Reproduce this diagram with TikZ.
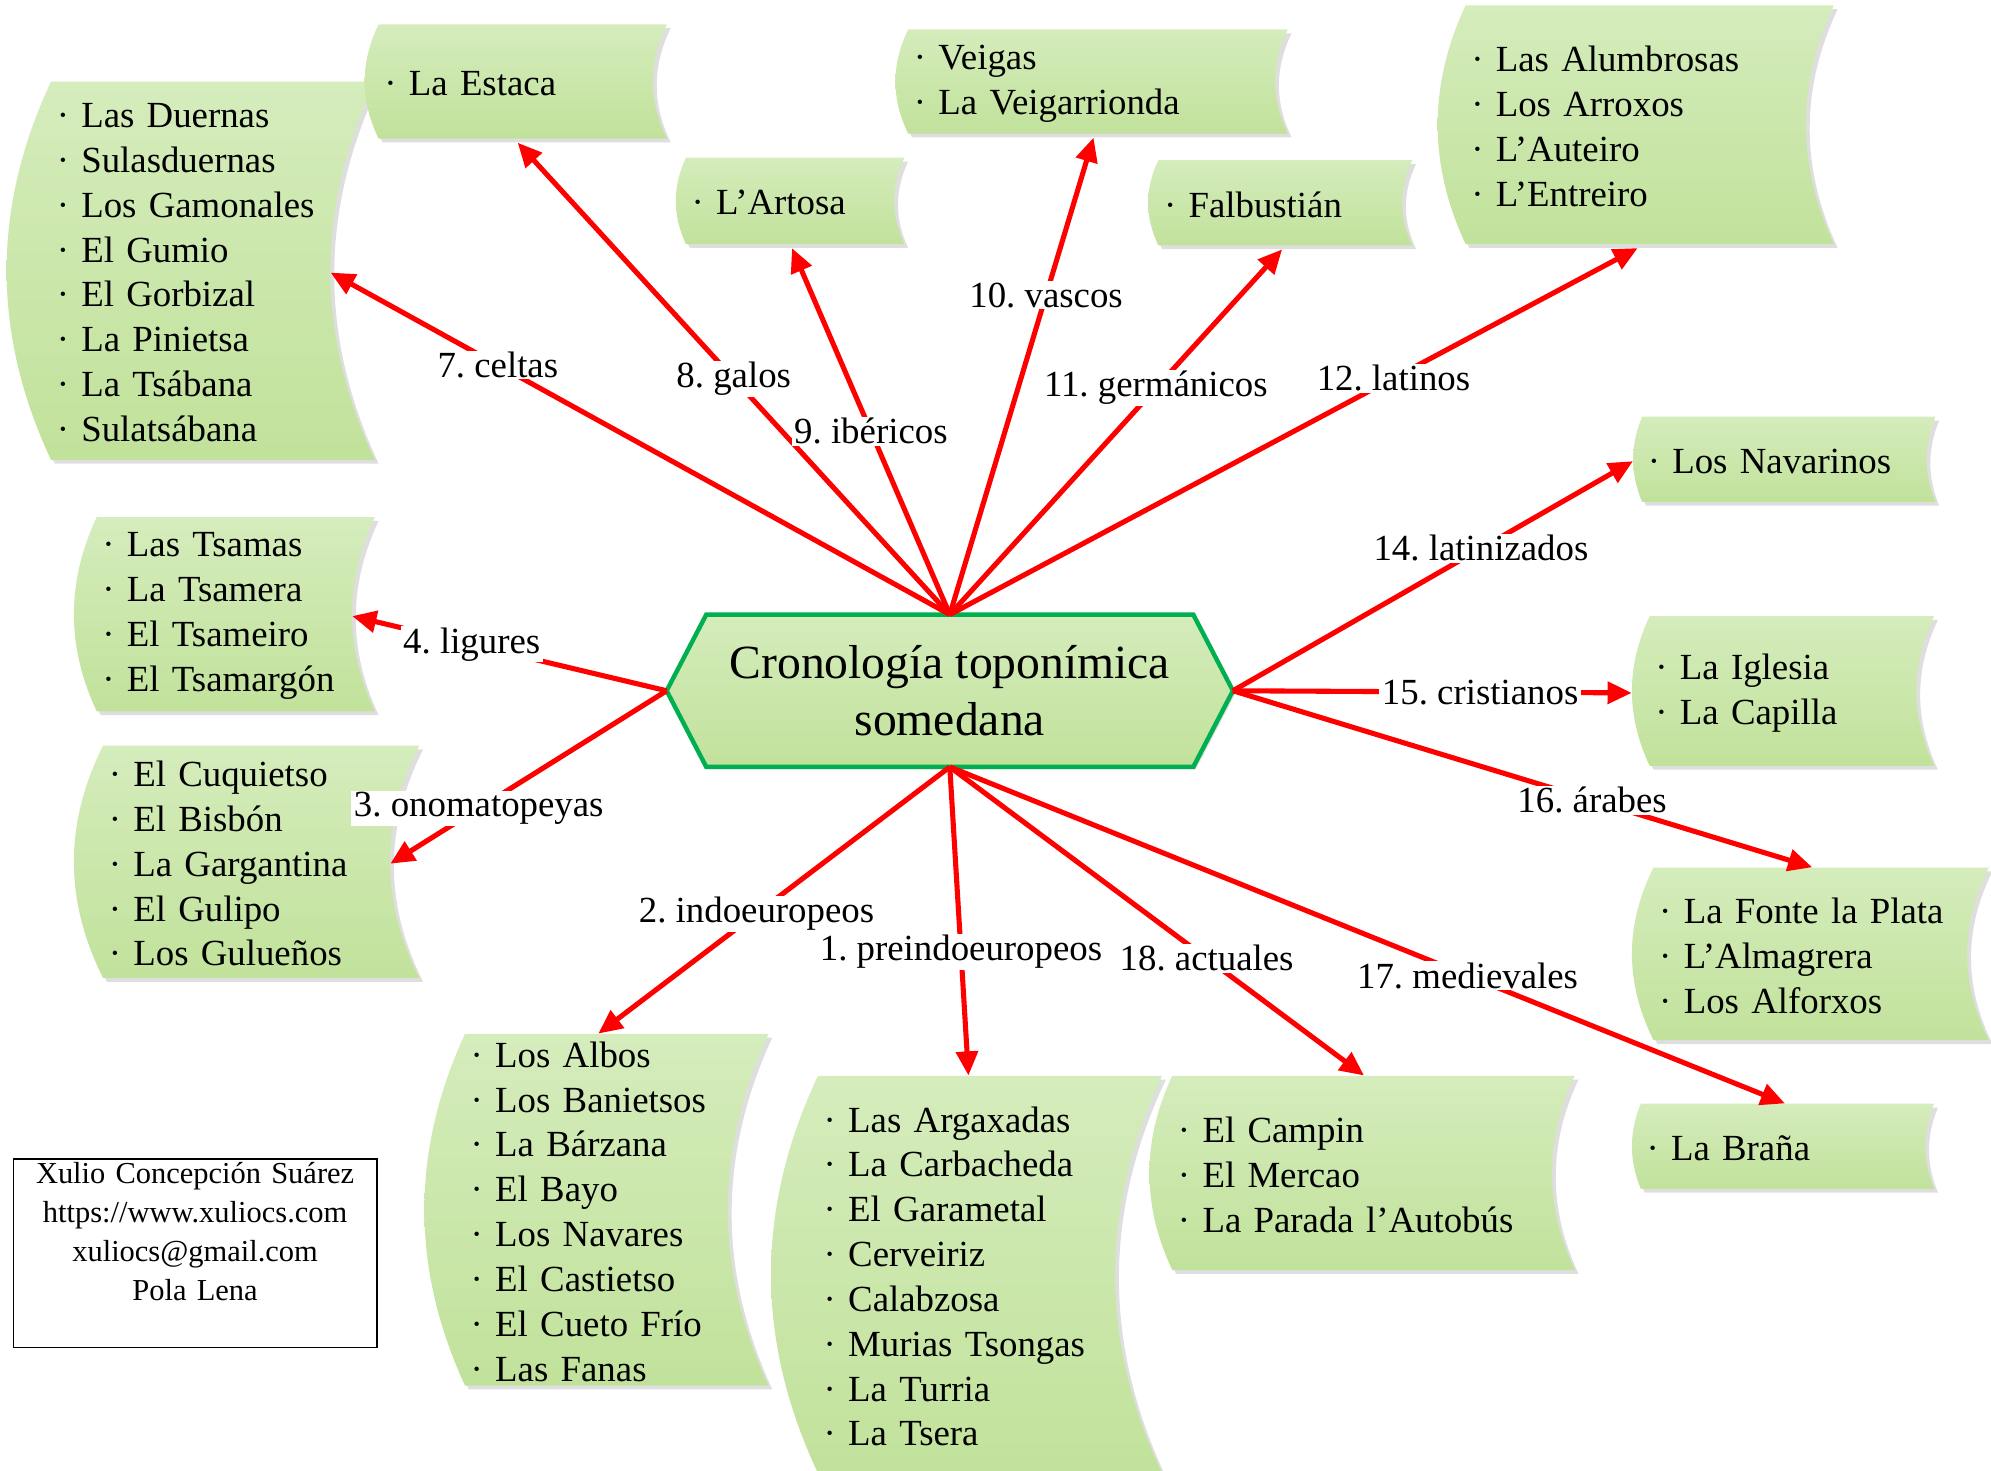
\documentclass[tikz,border=0pt]{standalone}
\usepackage{fontspec}
\setmainfont{Liberation Serif}
\usetikzlibrary{arrows.meta,calc,shapes.symbols,shadows}
\frenchspacing

\definecolor{boxtop}{RGB}{213,236,188}
\definecolor{boxbot}{RGB}{193,226,155}
\definecolor{boxshade}{RGB}{222,222,222}
\definecolor{hexgreen}{RGB}{0,176,80}
\definecolor{arrowred}{RGB}{255,0,0}

% outline of a list box: left, right, top, bottom, bulge (canvas)
\newcommand\banner[5]{%
  ({(#1)+(#5)},{#3}) -- ({#2},{#3})
  .. controls ({(#2)-4/3*(#5)},{(#3)-((#3)-(#4))/3}) and ({(#2)-4/3*(#5)},{(#4)+((#3)-(#4))/3}) .. ({#2},{#4})
  -- ({(#1)+(#5)},{#4})
  .. controls ({(#1)-(#5)/3},{(#4)+((#3)-(#4))/3}) and ({(#1)-(#5)/3},{(#3)-((#3)-(#4))/3}) .. cycle}

\begin{document}
\begin{tikzpicture}[
  x=1pt, y=-1pt,
  >={Triangle[length=19pt,width=17pt]},
  % curved list box: width, height, bulge
  box/.style n args={3}{
    anchor=north west, inner ysep=0pt,
    minimum width=#1pt, minimum height=#2pt,
    inner xsep=#3pt+4.5pt, text width=#1pt-2*#3pt-9pt,
    align=left, font=\fontsize{29}{35.3}\selectfont,
    path picture={
      \path (path picture bounding box.north west) coordinate (pnw)
            (path picture bounding box.south east) coordinate (pse);
      \fill[boxshade] let \p1=(pnw), \p2=(pse) in
        \banner{\x1+3pt}{\x2}{\y1-3pt}{\y2}{#3pt};
      \shade[top color=boxtop, bottom color=boxbot] let \p1=(pnw), \p2=(pse) in
        \banner{\x1}{\x2-3pt}{\y1}{\y2+3pt}{#3pt};
    }
  },
  hub/.style = {
    signal, signal to=west and east, signal pointer angle=125,
    draw=hexgreen, line width=3.5pt, top color=boxtop, bottom color=boxbot,
    minimum width=446pt, minimum height=120pt, inner sep=0pt, outer sep=0pt,
    align=center, font=\fontsize{37.5}{45}\selectfont,
    drop shadow={shadow xshift=2pt, shadow yshift=-2pt, fill=black!25}
  },
  link/.style = {->, draw=arrowred, line width=4pt},
  tag/.style = {fill=white, text=black, inner xsep=2pt, inner ysep=1pt,
    font=\fontsize{29}{34}\selectfont},
  author/.style = {
    draw, line width=1.3pt, anchor=north west,
    text width=280pt, inner xsep=3pt, inner ysep=3pt, text depth=126pt,
    align=center, font=\fontsize{24}{30.7}\selectfont
  }
]

\useasboundingbox (0,0) rectangle (1568,1158);

% ---- list boxes ----
% upper row
\node[box={293}{301}{35}] (celtas) at (5,64) {· Las Duernas\\· Sulasduernas\\· Los Gamonales\\· El Gumio\\· El Gorbizal\\· La Pinietsa\\· La Tsábana\\· Sulatsábana};
\node[box={241}{93}{11}] (estaca) at (287,19) {· La Estaca};
\node[box={183}{71}{8}] (artosa) at (532,124) {· L’Artosa};
\node[box={312}{85}{10}] (veigas) at (705,23) {· Veigas\\· La Veigarrionda};
\node[box={211}{70}{8}] (falbus) at (904,126) {· Falbustián};
\node[box={315}{191}{22}] (alumbr) at (1132,4) {· Las Alumbrosas\\· Los Arroxos\\· L’Auteiro\\· L’Entreiro};

% right column
\node[box={241}{70}{7}] (navar) at (1286,328) {· Los Navarinos};
\node[box={241}{121}{14}] (iglesia) at (1285,485) {· La Iglesia\\· La Capilla};
\node[box={284}{139}{17}] (fonte) at (1285,683) {· La Fonte la Plata\\· L’Almagrera\\· Los Alforxos};
\node[box={241}{70}{7}] (brana) at (1285,869) {· La Braña};

% lower row
\node[box={338}{156}{18}] (campin) at (905,847) {· El Campin\\· El Mercao\\· La Parada l’Autobús};
\node[box={311}{316}{37}] (argax) at (607,847) {· Las Argaxadas\\· La Carbacheda\\· El Garametal\\· Cerveiriz\\· Calabzosa\\· Murias Tsongas\\· La Turria\\· La Tsera};
\node[box={274}{280}{32}] (albos) at (334,814) {· Los Albos\\· Los Banietsos\\· La Bárzana\\· El Bayo\\· Los Navares\\· El Castietso\\· El Cueto Frío\\· Las Fanas};

% left column
\node[box={240}{156}{18}] (tsamas) at (58,407) {· Las Tsamas\\· La Tsamera\\· El Tsameiro\\· El Tsamargón};
\node[box={275}{186}{23}] (cuq) at (58,587) {· El Cuquietso\\· El Bisbón\\· La Gargantina\\· El Gulipo\\· Los Gulueños};

% ---- centre ----
\node[hub] (hub) at (748,544) {Cronología toponímica\\somedana};

% ---- arrows ----
\draw[link] (hub.north) -- node[tag,pos=.73]{7. celtas} ([xshift=-38pt]celtas.east);
\draw[link] (hub.north) -- node[tag,pos=.5]{8. galos} (estaca.south);
\draw[link] (hub.north) -- node[tag,pos=.5]{9. ibéricos} (artosa.south);
\draw[link] (hub.north) -- node[tag,pos=.67]{10. vascos} (veigas.south);
\draw[link] (hub.north) -- node[tag,pos=.62]{11. germánicos} (falbus.south);
\draw[link] (hub.north) -- node[tag,pos=.645]{12. latinos} (alumbr.south);

\draw[link] (hub.east) -- node[tag,pos=.62]{14. latinizados} (navar.west);
\draw[link] (hub.east) -- node[tag,pos=.62]{15. cristianos} (iglesia.west);
\draw[link] (hub.east) -- node[tag,pos=.62]{16. árabes} (fonte.north);

\draw[link] (hub.south) -- node[tag,pos=.62]{17. medievales} (brana.north);
\draw[link] (hub.south) -- node[tag,pos=.62]{18. actuales} (campin.north);
\draw[link] (hub.south) -- node[tag,pos=.6]{1. preindoeuropeos} (argax.north);
\draw[link] (hub.south) -- node[tag,pos=.55]{2. indoeuropeos} (albos.north);

\draw[link] (hub.west) -- node[tag,pos=.68]{3. onomatopeyas} ([xshift=-26pt]cuq.east);
\draw[link] (hub.west) -- node[tag,pos=.62]{4. ligures} ([xshift=-21pt]tsamas.east);

% ---- author ----
\node[author] (author) at (10,912) {Xulio Concepción Suárez\\https://www.xuliocs.com\\xuliocs@gmail.com\\Pola Lena};

\end{tikzpicture}
\end{document}
